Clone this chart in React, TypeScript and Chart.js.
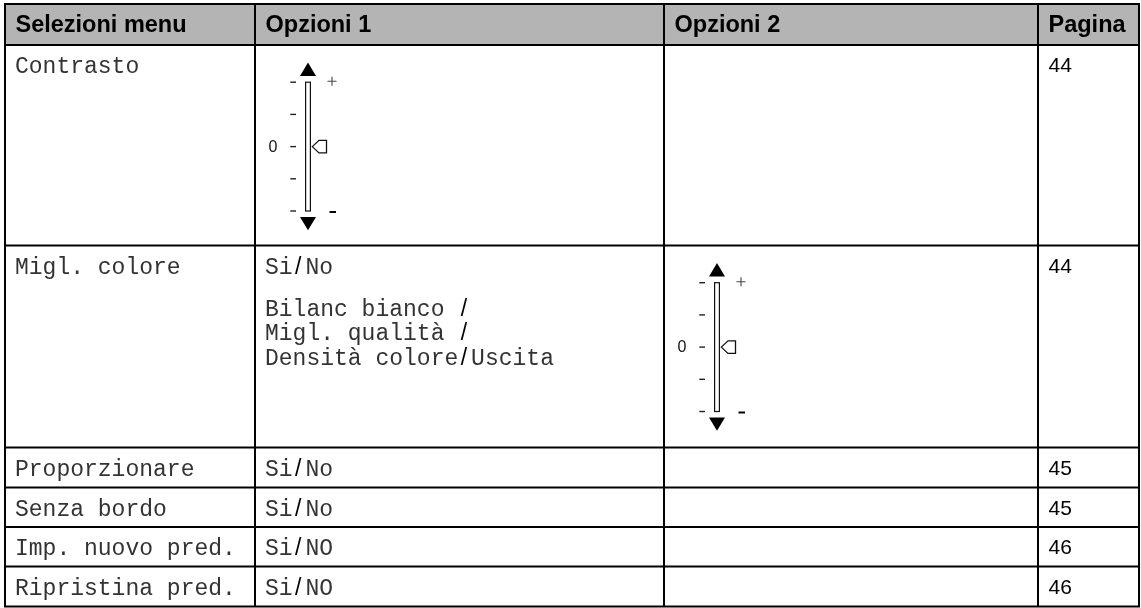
import React, { useEffect, useRef } from 'react';
import { Chart, registerables } from 'chart.js';

Chart.register(...registerables);

// ---------- content ----------
const headers = ['Selezioni menu', 'Opzioni 1', 'Opzioni 2', 'Pagina'];
const menuItems = ['Contrasto', 'Migl. colore', 'Proporzionare', 'Senza bordo', 'Imp. nuovo pred.', 'Ripristina pred.'];
const option1First = ['', 'Si/No', 'Si/No', 'Si/No', 'Si/NO', 'Si/NO'];
const option1More = [[], ['Bilanc bianco /', 'Migl. qualità /', 'Densità colore/Uscita'], [], [], [], []];
const pages = ['44', '44', '45', '45', '46', '46'];
// column (1 = Opzioni 1, 2 = Opzioni 2) that holds a level slider, -1 = none
const sliderColumn = [1, 2, -1, -1, -1, -1];
const sliderLevels = [2, 1, 0, -1, -2];

// ---------- layout (page coordinates, used through the chart's scales) ----------
const W = 1141;
const H = 608;
const colEdges = [5, 255, 664, 1038, 1139];
const rowEdges = [4, 45, 245.5, 447.5, 487.5, 527, 566.5, 606.5];
const HEADER_FILL = '#b4b4b4';
const MONO = '"Liberation Mono", "Courier New", monospace';
const SANS = '"Liberation Sans", Arial, sans-serif';

function drawRich(ctx: CanvasRenderingContext2D, text: string, x: number, y: number) {
  const parts = text.split('/');
  let cx = x;
  parts.forEach((p, i) => {
    if (p) {
      ctx.font = `23px ${MONO}`;
      ctx.fillStyle = '#333';
      ctx.fillText(p, cx, y);
      cx += ctx.measureText(p).width;
    }
    if (i < parts.length - 1) {
      ctx.font = `23px ${SANS}`;
      ctx.fillStyle = '#000';
      cx += 2.5;
      ctx.fillText('/', cx, y);
      cx += ctx.measureText('/').width + 4;
    }
  });
}

function drawSlider(ctx: CanvasRenderingContext2D, X: (v: number) => number, Y: (v: number) => number, cxv: number, topv: number) {
  const cx = X(cxv);
  const y0 = Y(topv);
  const trackTop = y0 + 19.6;
  const step = 32.2;
  const trackBottom = trackTop + step * (sliderLevels.length - 1);
  ctx.save();
  // up arrow
  ctx.fillStyle = '#000';
  ctx.beginPath();
  ctx.moveTo(cx, y0);
  ctx.lineTo(cx + 8, y0 + 13.3);
  ctx.lineTo(cx - 8, y0 + 13.3);
  ctx.closePath();
  ctx.fill();
  // down arrow
  ctx.beginPath();
  ctx.moveTo(cx - 8, trackBottom + 6);
  ctx.lineTo(cx + 8, trackBottom + 6);
  ctx.lineTo(cx, trackBottom + 19.3);
  ctx.closePath();
  ctx.fill();
  // track
  ctx.fillStyle = '#fff';
  ctx.strokeStyle = '#111';
  ctx.lineWidth = 1.2;
  ctx.fillRect(cx - 2.4, trackTop, 4.8, trackBottom - trackTop);
  ctx.strokeRect(cx - 2.4, trackTop, 4.8, trackBottom - trackTop);
  // ticks
  sliderLevels.forEach((lv, i) => {
    const ty = trackTop + i * step;
    ctx.strokeStyle = '#222';
    ctx.lineWidth = 1.4;
    ctx.beginPath();
    ctx.moveTo(cx - 17.7, ty);
    ctx.lineTo(cx - 12, ty);
    ctx.stroke();
    if (lv === 0) {
      ctx.fillStyle = '#111';
      ctx.font = `16px ${SANS}`;
      ctx.textAlign = 'center';
      ctx.textBaseline = 'middle';
      ctx.fillText('0', cx - 35, ty + 0.5);
      // pointer
      ctx.fillStyle = '#fff';
      ctx.strokeStyle = '#111';
      ctx.lineWidth = 1.3;
      ctx.beginPath();
      ctx.moveTo(cx + 4.3, ty);
      ctx.lineTo(cx + 11, ty - 6.3);
      ctx.lineTo(cx + 18.5, ty - 6.3);
      ctx.lineTo(cx + 18.5, ty + 6.3);
      ctx.lineTo(cx + 11, ty + 6.3);
      ctx.closePath();
      ctx.fill();
      ctx.stroke();
    }
    if (lv === sliderLevels[0]) {
      ctx.strokeStyle = '#444';
      ctx.lineWidth = 1.1;
      ctx.beginPath();
      ctx.moveTo(cx + 19.5, ty - 1);
      ctx.lineTo(cx + 28.5, ty - 1);
      ctx.moveTo(cx + 24, ty - 5.5);
      ctx.lineTo(cx + 24, ty + 3.5);
      ctx.stroke();
    }
    if (lv === sliderLevels[sliderLevels.length - 1]) {
      ctx.strokeStyle = '#000';
      ctx.lineWidth = 2;
      ctx.beginPath();
      ctx.moveTo(cx + 21.5, ty + 1);
      ctx.lineTo(cx + 28, ty + 1);
      ctx.stroke();
    }
  });
  ctx.restore();
}

const tablePlugin = {
  id: 'menuTable',
  afterDraw(chart: any) {
    const { ctx, scales } = chart;
    const X = (v: number) => scales.x.getPixelForValue(v);
    const Y = (v: number) => scales.y.getPixelForValue(v);
    ctx.save();
    ctx.fillStyle = '#fff';
    ctx.fillRect(X(0), Y(0), X(W) - X(0), Y(H) - Y(0));
    // header fill
    ctx.fillStyle = HEADER_FILL;
    ctx.fillRect(X(colEdges[0]), Y(rowEdges[0]), X(colEdges[4]) - X(colEdges[0]), Y(rowEdges[1]) - Y(rowEdges[0]));

    // header text
    ctx.textBaseline = 'alphabetic';
    ctx.textAlign = 'left';
    ctx.fillStyle = '#000';
    ctx.font = `bold 23.5px ${SANS}`;
    headers.forEach((h, i) => {
      ctx.fillText(h, X(colEdges[i] + 10.5), Y(rowEdges[0] + 27.5));
    });

    // body
    menuItems.forEach((item, r) => {
      const top = rowEdges[r + 1];
      const base = top + 28;
      drawRich(ctx, item, X(colEdges[0] + 10), Y(base));
      if (option1First[r]) drawRich(ctx, option1First[r], X(colEdges[1] + 10), Y(base));
      option1More[r].forEach((line, k) => {
        drawRich(ctx, line, X(colEdges[1] + 10), Y(base + 42 + k * 24.5));
      });
      ctx.font = `21px ${SANS}`;
      ctx.fillStyle = '#000';
      ctx.fillText(pages[r], X(colEdges[3] + 10.5), Y(base - 1));
      const sc = sliderColumn[r];
      if (sc >= 0) {
        drawSlider(ctx, X, Y, colEdges[sc] + 53, top + 17.6);
      }
    });

    // grid lines
    ctx.strokeStyle = '#000';
    ctx.lineWidth = 2;
    ctx.beginPath();
    rowEdges.forEach((ry) => {
      ctx.moveTo(X(colEdges[0]) - 1, Y(ry));
      ctx.lineTo(X(colEdges[4]) + 1, Y(ry));
    });
    colEdges.forEach((cx) => {
      ctx.moveTo(X(cx), Y(rowEdges[0]));
      ctx.lineTo(X(cx), Y(rowEdges[rowEdges.length - 1]));
    });
    ctx.stroke();
    ctx.restore();
  },
};

export default function App() {
  const ref = useRef<HTMLCanvasElement | null>(null);
  useEffect(() => {
    if (!ref.current) return;
    const chart = new Chart(ref.current, {
      type: 'scatter',
      data: { datasets: [] },
      options: {
        animation: false,
        responsive: false,
        devicePixelRatio: 1,
        events: [],
        layout: { padding: 0 },
        plugins: { legend: { display: false }, tooltip: { enabled: false } },
        scales: {
          x: { type: 'linear', min: 0, max: W, display: false },
          y: { type: 'linear', min: 0, max: H, reverse: true, display: false },
        },
      },
      plugins: [tablePlugin],
    });
    return () => chart.destroy();
  }, []);
  return (
    <div style={{ position: 'absolute', left: 0, top: 0, width: W, height: H, background: '#fff' }}>
      <canvas ref={ref} width={W} height={H} style={{ display: 'block', width: W, height: H }} />
    </div>
  );
}
